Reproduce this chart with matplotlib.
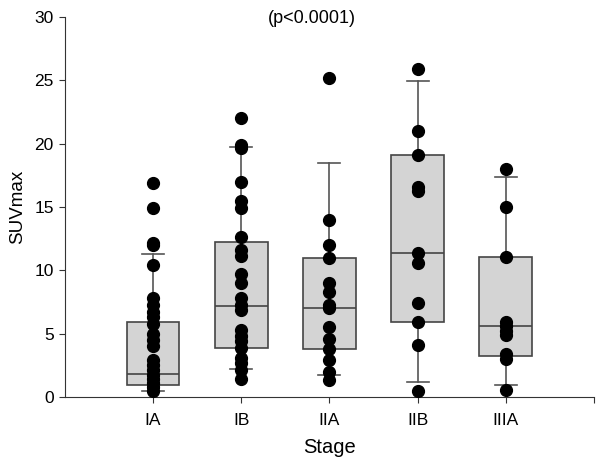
import numpy as np
import matplotlib
matplotlib.use("Agg")
import matplotlib.pyplot as plt

plt.rcParams["font.family"] = ["Liberation Sans", "DejaVu Sans"]

stages = ["IA", "IB", "IIA", "IIB", "IIIA"]

# box stats (whiskers at 10th/90th percentile)
whislo = [0.5, 2.25, 1.74, 1.2, 0.95]
q1 = [0.95, 3.9, 3.8, 5.95, 3.26]
med = [1.8, 7.2, 7.0, 11.35, 5.63]
q3 = [5.9, 12.26, 11.0, 19.1, 11.07]
whishi = [11.3, 19.75, 18.45, 24.94, 17.4]

# individual SUVmax values
ia = [16.9, 14.9, 12.2, 12.0, 10.4, 7.8, 7.3, 6.7, 6.3, 5.8, 5.0, 4.5, 4.0,
      2.9, 2.5, 2.1, 1.7, 1.4, 1.1, 0.8, 0.5]
ib = [22.0, 19.9, 19.7, 17.0, 15.5, 14.9, 12.6, 11.6, 11.1, 9.7, 9.0, 7.8,
      7.3, 6.9, 5.3, 4.8, 4.4, 3.9, 3.05, 2.7, 2.1, 1.4]
iia = [25.2, 14.0, 12.0, 11.0, 9.0, 8.3, 7.25, 7.0, 5.55, 4.6, 3.8, 2.9,
       2.0, 1.35]
iib = [25.9, 21.0, 19.1, 16.6, 16.3, 11.35, 10.55, 7.4, 5.95, 4.1, 0.47]
iiia = [18.0, 15.0, 11.07, 5.95, 5.6, 5.2, 4.9, 3.4, 3.0, 0.55]
points = [ia, ib, iia, iib, iiia]

fig = plt.figure(figsize=(6, 4.63), dpi=100)
ax = fig.add_axes([0.108, 0.1425, 0.882, 0.8205])

stats = []
for i in range(len(stages)):
    stats.append({"whislo": whislo[i], "q1": q1[i], "med": med[i],
                  "q3": q3[i], "whishi": whishi[i], "fliers": []})

pos = np.arange(1, len(stages) + 1)
ax.bxp(stats, positions=pos, widths=0.6, patch_artist=True, showfliers=False,
       boxprops=dict(facecolor="#d4d4d4", edgecolor="#454545", linewidth=1.2),
       medianprops=dict(color="#454545", linewidth=1.2),
       whiskerprops=dict(color="#555555", linewidth=1.2),
       capprops=dict(color="#555555", linewidth=1.2), capwidths=0.25)

for i, vals in enumerate(points):
    ax.plot(np.full(len(vals), pos[i]), vals, "o", color="black",
            markersize=8.5, zorder=5, linestyle="none")

ax.set_xlim(0, 6)
ax.set_ylim(0, 30)
ax.set_xticks(list(pos) + [6])
ax.set_xticklabels(stages + [""])
ax.set_yticks(range(0, 31, 5))
ax.tick_params(direction="out", labelsize=12.5, color="#333333", length=4.5)
ax.tick_params(axis="x", pad=7)
ax.spines["top"].set_visible(False)
ax.spines["right"].set_visible(False)
for s in ["left", "bottom"]:
    ax.spines[s].set_color("#333333")
ax.set_xlabel("Stage", fontsize=14.5, labelpad=7)
ax.set_ylabel("SUVmax", fontsize=13.5, labelpad=6)
ax.text(2.8, 29.9, "(p<0.0001)", ha="center", va="center", fontsize=13)

fig.savefig("out.png", dpi=100)
